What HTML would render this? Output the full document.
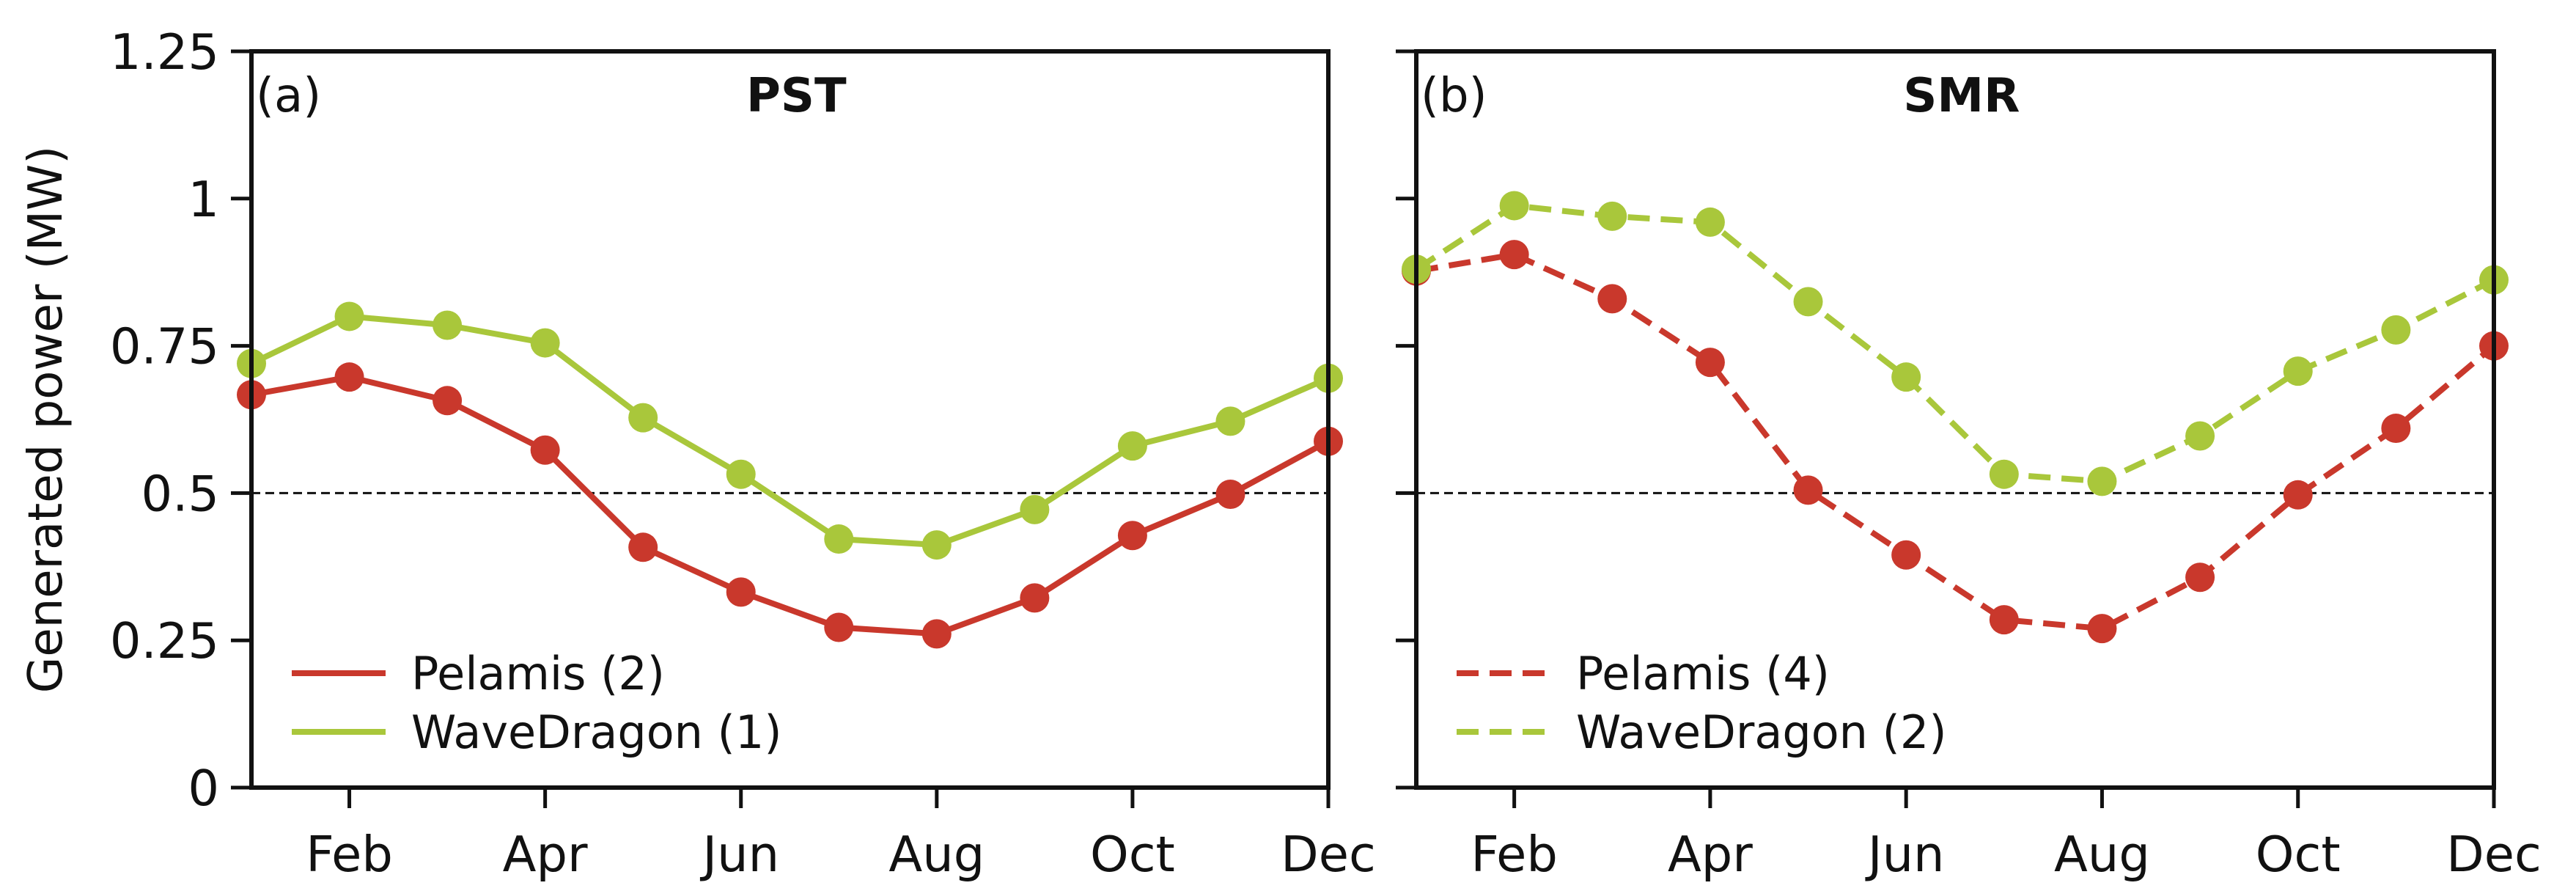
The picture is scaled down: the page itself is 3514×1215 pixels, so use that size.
<!DOCTYPE html>
<html><head><meta charset="utf-8"><style>
html,body{margin:0;padding:0;background:#fff;}
svg{display:block;font-family:"DejaVu Sans","Liberation Sans",sans-serif;}
</style></head><body>
<svg id="chart" width="3514" height="1215" viewBox="0 0 3514 1215" xmlns="http://www.w3.org/2000/svg">
<text transform="translate(84,572) rotate(-90)" text-anchor="middle" font-size="64" fill="#111">Generated power (MW)</text>
</svg>
<script>
const months = [1,2,3,4,5,6,7,8,9,10,11,12];
const xTickMonths = [2,4,6,8,10,12];
const xTickLabels = ["Feb","Apr","Jun","Aug","Oct","Dec"];
const yTicks = [0,0.25,0.5,0.75,1,1.25];
const yTickLabels = ["0","0.25","0.5","0.75","1","1.25"];
const pstPelamis = [0.667,0.697,0.657,0.573,0.408,0.332,0.272,0.261,0.322,0.428,0.498,0.588];
const pstWaveDragon = [0.72,0.80,0.785,0.755,0.628,0.532,0.422,0.412,0.472,0.58,0.622,0.695];
const smrPelamis = [0.877,0.905,0.83,0.722,0.505,0.395,0.285,0.27,0.357,0.497,0.61,0.75];
const smrWaveDragon = [0.88,0.988,0.97,0.96,0.825,0.697,0.532,0.52,0.597,0.707,0.777,0.862];
const threshold = 0.5;

const NS = "http://www.w3.org/2000/svg";
const svg = document.getElementById('chart');
const RED = "#c9382c", GREEN = "#a9c73b";
const top0 = 70, bot0 = 1074;
function yScale(v){ return bot0 - (v/1.25)*(bot0-top0); }
function mk(tag, attrs, parent){ const e=document.createElementNS(NS,tag); for(const k in attrs) e.setAttribute(k,attrs[k]); (parent||svg).appendChild(e); return e; }

function panel(left, right, label, title, s1, s2, dashed, l1, l2, showY, key){
  const xScale = m => left + (m-1)*(right-left)/11;
  const g = mk('g',{});
  
  
  const th = mk('line',{x1:left,x2:right,y1:yScale(threshold),y2:yScale(threshold),stroke:'#111','stroke-width':3,'stroke-dasharray':'12,7'},g);
  
  
  [[s1,RED,'pelamis'],[s2,GREEN,'wavedragon']].forEach(([vals,col,nm])=>{
    const pts = vals.map((v,i)=>xScale(months[i])+','+yScale(v)).join(' ');
    const pl = mk('polyline',{points:pts,fill:'none',stroke:col,'stroke-width':8,'stroke-dasharray':dashed?'30,15':'none'},g);
    
    
    vals.forEach((v,i)=>{
      const c = mk('circle',{cx:xScale(months[i]),cy:yScale(v),r:20,fill:col},g);
      
      
    });
  });
  const fr = mk('rect',{x:left,y:top0,width:right-left,height:bot0-top0,fill:'none',stroke:'#111','stroke-width':6},g);
  
  
  yTicks.forEach((t,i)=>{
    const tl = mk('line',{x1:left-28,x2:left,y1:yScale(t),y2:yScale(t),stroke:'#111','stroke-width':5},g);
    
    
    if(showY){
      const tx = mk('text',{x:left-44,y:yScale(t)+24,'text-anchor':'end','font-size':67,fill:'#111'},g);
      tx.textContent = yTickLabels[i];
      
      
    }
  });
  xTickMonths.forEach((m,i)=>{
    const tl = mk('line',{x1:xScale(m),x2:xScale(m),y1:bot0,y2:bot0+28,stroke:'#111','stroke-width':5},g);
    
    
    const tx = mk('text',{x:xScale(m),y:1188,'text-anchor':'middle','font-size':67,fill:'#111'},g);
    tx.textContent = xTickLabels[i];
    
    
  });
  const lb = mk('text',{x:left+6,y:152,'font-size':64,fill:'#111'},g);
  lb.textContent = label;
  
  
  const tt = mk('text',{x:left+(right-left)*0.506,y:152,'text-anchor':'middle','font-size':64,'font-weight':'bold',fill:'#111'},g);
  tt.textContent = title;
  
  
  [[l1,RED,918],[l2,GREEN,998]].forEach(([txt,col,y])=>{
    const ll = mk('line',{x1:left+55,x2:left+183,y1:y,y2:y,stroke:col,'stroke-width':8,'stroke-dasharray':dashed?'30,15':'none'},g);
    
    
    const lt = mk('text',{x:left+218,y:y+22,'font-size':62,fill:'#111'},g);
    lt.textContent = txt;
    
    
  });
}
panel(343,1812,'(a)','PST',pstPelamis,pstWaveDragon,false,'Pelamis (2)','WaveDragon (1)',true,'pst');
panel(1932,3402,'(b)','SMR',smrPelamis,smrWaveDragon,true,'Pelamis (4)','WaveDragon (2)',false,'smr');
</script>
</body></html>
